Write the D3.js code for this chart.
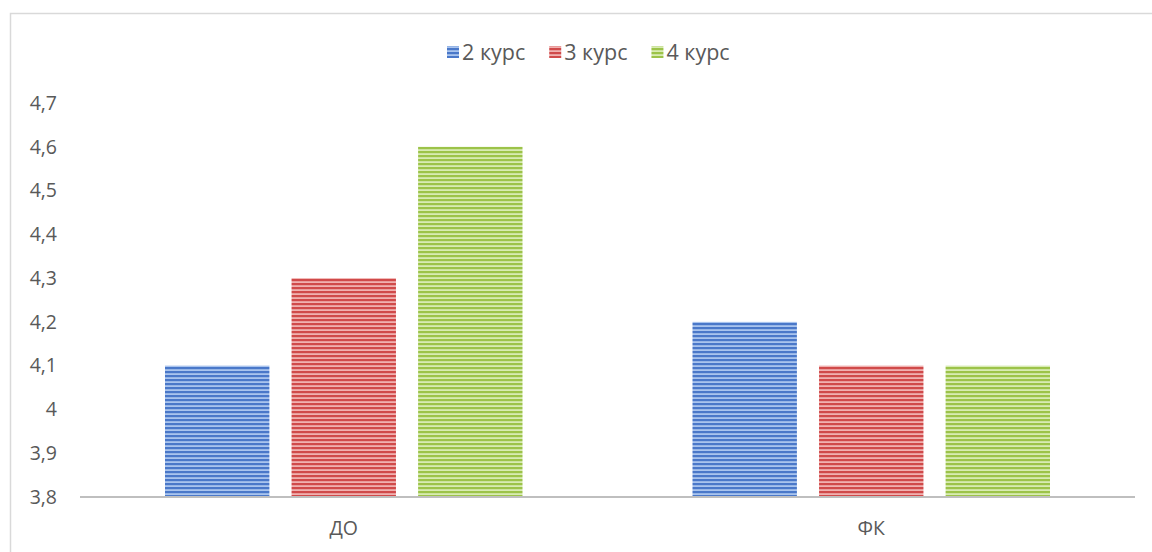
<!DOCTYPE html>
<html>
<head>
<meta charset="utf-8">
<script src="https://cdn.jsdelivr.net/npm/d3@7"></script>
<style>
  body { margin: 0; background: #fff; }
  text { font-family: "Open Sans", "DejaVu Sans", sans-serif; }
</style>
</head>
<body>
<div id="wrapper"></div>
<script>
// data
const categories = ["ДО", "ФК"]
const seriesNames = ["2 курс", "3 курс", "4 курс"]
const values = {
  "2 курс": [4.1, 4.2],
  "3 курс": [4.3, 4.1],
  "4 курс": [4.6, 4.1],
}
const yTicks = [3.8, 3.9, 4.0, 4.1, 4.2, 4.3, 4.4, 4.5, 4.6, 4.7]

const colors = {
  "2 курс": { dark: "#4a78c9", light: "#a9c4ee" },
  "3 курс": { dark: "#d04a4a", light: "#f0b1b0" },
  "4 курс": { dark: "#9cc349", light: "#d8ebb3" },
}

// dimensions
const dimensions = {
  width: 1152,
  height: 552,
  margin: { top: 103, right: 17, bottom: 55, left: 80 },
}
dimensions.boundWidth = dimensions.width - dimensions.margin.left - dimensions.margin.right
dimensions.boundHeight = dimensions.height - dimensions.margin.top - dimensions.margin.bottom

const wrapper = d3.select("#wrapper")
  .append("svg")
    .attr("width", dimensions.width)
    .attr("height", dimensions.height)

// chart border
wrapper.append("rect")
  .attr("x", 10.5)
  .attr("y", 13.5)
  .attr("width", 1160)
  .attr("height", 560)
  .attr("fill", "none")
  .attr("stroke", "#d9d9d9")
  .attr("stroke-width", 1.5)

// stripe patterns
const defs = wrapper.append("defs")
seriesNames.forEach((s, i) => {
  const p = defs.append("pattern")
    .attr("id", "stripe" + i)
    .attr("patternUnits", "userSpaceOnUse")
    .attr("width", 8)
    .attr("height", 4)
  p.append("rect").attr("width", 8).attr("height", 4).attr("fill", colors[s].light)
  p.append("rect").attr("width", 8).attr("height", 2.2).attr("fill", colors[s].dark)
})

const bounds = wrapper.append("g")
  .attr("transform", `translate(${dimensions.margin.left},${dimensions.margin.top})`)

// scales
const yScale = d3.scaleLinear()
  .domain([3.8, 4.7])
  .range([dimensions.boundHeight, 0])

const xScale = d3.scaleBand()
  .domain(categories)
  .range([0, dimensions.boundWidth])

const xInner = d3.scaleBand()
  .domain(seriesNames)
  .range([85, xScale.bandwidth() - 85])
  .paddingInner(0.175)

const fmt = d => d3.format(".1f")(d).replace(".", ",").replace(",0", "")

// y axis labels
bounds.append("g")
  .selectAll("text")
  .data(yTicks)
  .join("text")
    .attr("x", -23)
    .attr("y", d => yScale(d))
    .attr("dy", "0.35em")
    .attr("text-anchor", "end")
    .attr("fill", "#595959")
    .attr("font-size", 19.5)
    .text(fmt)

// bars
const groups = bounds.append("g")
  .selectAll("g")
  .data(seriesNames)
  .join("g")

groups.selectAll("rect")
  .data(s => categories.map((c, j) => ({ s, c, v: values[s][j] })))
  .join("rect")
    .attr("x", d => xScale(d.c) + xInner(d.s))
    .attr("width", xInner.bandwidth())
    .attr("y", d => yScale(d.v))
    .attr("height", d => yScale(3.8) - yScale(d.v))
    .attr("fill", d => `url(#stripe${seriesNames.indexOf(d.s)})`)

// x axis line
bounds.append("line")
  .attr("x1", 0)
  .attr("x2", dimensions.boundWidth)
  .attr("y1", yScale(3.8))
  .attr("y2", yScale(3.8))
  .attr("stroke", "#bfbfbf")
  .attr("stroke-width", 2)

// category labels
bounds.append("g")
  .selectAll("text")
  .data(categories)
  .join("text")
    .attr("x", d => xScale(d) + xScale.bandwidth() / 2)
    .attr("y", yScale(3.8) + 38)
    .attr("text-anchor", "middle")
    .attr("fill", "#595959")
    .attr("font-size", 19.5)
    .text(d => d)

// legend
const legend = wrapper.append("g")
  .attr("transform", "translate(447,52)")
let lx = 0
seriesNames.forEach((s, i) => {
  const item = legend.append("g").attr("transform", `translate(${lx},0)`)
  item.append("rect")
    .attr("x", 0)
    .attr("y", -6)
    .attr("width", 12)
    .attr("height", 12)
    .attr("fill", `url(#stripe${i})`)
  const t = item.append("text")
    .attr("x", 15)
    .attr("dy", "0.35em")
    .attr("fill", "#595959")
    .attr("font-size", 21.5)
    .text(s)
  lx += 15 + t.node().getComputedTextLength() + 24
})
</script>
</body>
</html>
